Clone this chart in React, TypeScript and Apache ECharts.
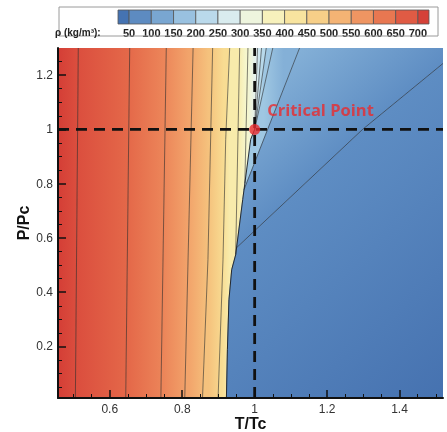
import React, { useEffect, useRef } from "react";
import * as echarts from "echarts";

// ---- axis ranges and ticks ----
const T_RANGE = [0.457, 1.52];
const P_RANGE = [0.01, 1.3];
const xTicks = [0.6, 0.8, 1, 1.2, 1.4];
const xMinorTicks = [0.5, 0.55, 0.65, 0.7, 0.75, 0.85, 0.9, 0.95, 1.05, 1.1, 1.15, 1.25, 1.3, 1.35, 1.45, 1.5];
const yTicks = [0.2, 0.4, 0.6, 0.8, 1, 1.2];
const yMinorTicks = [0.05, 0.1, 0.15, 0.25, 0.3, 0.35, 0.45, 0.5, 0.55, 0.65, 0.7, 0.75, 0.85, 0.9, 0.95, 1.05, 1.1, 1.15, 1.25];
const rhoLevels = [50, 100, 150, 200, 250, 300, 350, 400, 450, 500, 550, 600, 650, 700];
const colorbarRange = [25, 725];

// ---- critical point and saturation curve [T/Tc, P/Pc] ----
const criticalPoint = [1, 1];
const saturationCurve = [
  [0.922, 0.01], [0.9247, 0.188], [0.929, 0.372], [0.9366, 0.483], [0.9476, 0.538],
  [0.967, 0.741], [0.9728, 0.8], [0.989, 0.963], [1, 1],
];

// ---- density isolines [T/Tc, P/Pc], bottom -> top ----
const rho700 = [[0.505, 0.01], [0.513, 1.3]];
const rho650 = [[0.644, 0.01], [0.655, 1.3]];
const rho600 = [[0.741, 0.01], [0.756, 1.3]];
const rho550 = [[0.807, 0.01], [0.83, 1.3]];
const rho500 = [[0.856, 0.01], [0.871, 0.52], [0.884, 1.3]];
const rho450 = [[0.899, 0.01], [0.9126, 0.52], [0.92, 0.963], [0.931, 1.3]];
const rho400 = [[0.9476, 0.538], [0.9586, 1.3]];
const rho350 = [[0.9728, 0.8], [0.9815, 1.3]];
const rho300 = [[1.0, 1.0], [1.008, 1.3]];
const rho250 = [[1.0, 1.0], [1.019, 1.3]];
const rho200 = [[1.0, 1.0], [1.032, 1.3]];
const rho150 = [[1.0, 1.0], [1.05, 1.3]];
const rho100 = [[0.9706, 0.778], [1.124, 1.3]];
const rho50 = [[0.9501, 0.564], [1.298, 1.0], [1.52, 1.243]];

const isolines = [rho700, rho650, rho600, rho550, rho500, rho450, rho400, rho350, rho300, rho250, rho200, rho150, rho100, rho50];

// ---- styling ----
const levelColor: Record<number, string> = {
  0: "#3b68aa", 50: "#4f7eba", 100: "#6a98c8", 150: "#88b4da", 200: "#a9cee6",
  250: "#cbe4ef", 300: "#e6f3ef", 350: "#f6f6cc", 400: "#f8ebab", 450: "#f8dc92",
  500: "#f5c27d", 550: "#f2a46b", 600: "#ec8559", 650: "#e46849", 700: "#db4e3e", 750: "#cf3431",
};
const vaporColor = {
  c300: "#e3f1f1", c250: "#cfe6ef", c200: "#b8d9ea", c150: "#9fc7e2", c100: "#84b0d7",
  c50: "#5e8dc3", c0: "#4672b0",
};
const FONT = "Liberation Sans";

function hex(c: string) {
  const n = parseInt(c.slice(1), 16);
  return [(n >> 16) & 255, (n >> 8) & 255, n & 255];
}
function mix(a: string, b: string, t = 0.5) {
  const A = hex(a), B = hex(b);
  const r = A.map((v, i) => Math.round(v + (B[i] - v) * t));
  return "#" + r.map((v) => v.toString(16).padStart(2, "0")).join("");
}
function xAt(line: number[][], y: number) {
  for (let i = 0; i < line.length - 1; i++) {
    const [x0, y0] = line[i], [x1, y1] = line[i + 1];
    if ((y >= y0 && y <= y1) || i === line.length - 2 || (i === 0 && y < y0)) {
      return x0 + ((y - y0) / (y1 - y0)) * (x1 - x0);
    }
  }
  return line[0][0];
}
function satBetween(yA: number, yB: number) {
  const lo = Math.min(yA, yB), hi = Math.max(yA, yB);
  const pts = [[xAt(saturationCurve, lo), lo], ...saturationCurve.filter((p) => p[1] > lo && p[1] < hi), [xAt(saturationCurve, hi), hi]];
  return yA <= yB ? pts : pts.reverse();
}
const rev = (a: number[][]) => [...a].reverse();

function buildBands() {
  const [X0, X1] = T_RANGE, [Y0, Y1] = P_RANGE;
  const h = (A: number[][], B: number[][], y: number) => ({ g0: [xAt(A, y), y], g1: [xAt(B, y), y] });
  const L = levelColor, V = vaporColor;
  return [
    { pts: [[X0, Y0], ...rho700, [X0, Y1]], g0: [X0, 0.65], g1: [xAt(rho700, 0.65), 0.65], c0: mix(L[700], L[750], 0.6), c1: L[700] },
    { pts: [...rho700, ...rev(rho650)], ...h(rho700, rho650, 0.65), c0: L[700], c1: L[650] },
    { pts: [...rho650, ...rev(rho600)], ...h(rho650, rho600, 0.65), c0: L[650], c1: L[600] },
    { pts: [...rho600, ...rev(rho550)], ...h(rho600, rho550, 0.65), c0: L[600], c1: L[550] },
    { pts: [...rho550, ...rev(rho500)], ...h(rho550, rho500, 0.65), c0: L[550], c1: L[500] },
    { pts: [...rho500, ...rev(rho450)], ...h(rho500, rho450, 0.65), c0: L[500], c1: L[450] },
    { pts: [...rho450, ...rev(rho400), ...satBetween(rho400[0][1], Y0)], ...h(rho450, saturationCurve, 0.4), c0: L[450], c1: L[400] },
    { pts: [...rho400, ...rev(rho350), ...satBetween(rho350[0][1], rho400[0][1])], ...h(rho400, rho350, 0.95), c0: L[400], c1: L[350] },
    { pts: [...rho350, ...rev(rho300), ...satBetween(1, rho350[0][1])], ...h(rho350, rho300, 1.15), c0: L[350], c1: V.c300 },
    { pts: [...rho300, ...rev(rho250)], ...h(rho300, rho250, 1.15), c0: V.c300, c1: V.c250 },
    { pts: [...rho250, ...rev(rho200)], ...h(rho250, rho200, 1.15), c0: V.c250, c1: V.c200 },
    { pts: [...rho200, ...rev(rho150)], ...h(rho200, rho150, 1.15), c0: V.c200, c1: V.c150 },
    { pts: [...rho150, ...rev(rho100), ...satBetween(rho100[0][1], 1)], ...h(rho150, rho100, 1.15), c0: V.c150, c1: V.c100 },
    { pts: [...rho100, [X1, Y1], ...rev(rho50), ...satBetween(rho50[0][1], rho100[0][1])], g0: [1.124, 1.3], g1: [1.32, 1.007], c0: V.c100, c1: V.c50 },
    { pts: [...rho50, [X1, Y0], ...satBetween(Y0, rho50[0][1])], g0: [1.2345, 0.908], g1: [1.69, 0.22], c0: V.c50, c1: V.c0 },
  ];
}

function colorbarBins() {
  const edges = [colorbarRange[0], ...rhoLevels, colorbarRange[1]];
  const bins = [];
  for (let i = 0; i < edges.length - 1; i++) {
    const lo = i === 0 ? 0 : edges[i];
    const hi = i === edges.length - 2 ? 750 : edges[i + 1];
    bins.push({ lo: edges[i], hi: edges[i + 1], color: mix(levelColor[lo], levelColor[hi], 0.5) });
  }
  return bins;
}

export default function App() {
  const ref = useRef<HTMLDivElement>(null);
  useEffect(() => {
    if (!ref.current) return;
    const chart = echarts.init(ref.current, undefined, { renderer: "svg" });
    const bands = buildBands();
    const bins = colorbarBins();

    const tickLabel = { fontFamily: FONT, fontSize: 12, color: "#333" };
    const axisName = { fontFamily: FONT, fontSize: 16, fontWeight: "bold", color: "#111" };

    const contourSeries = isolines.map((line) => ({
      type: "line",
      data: line,
      showSymbol: false,
      silent: true,
      z: 3,
      lineStyle: { color: "#2a2a2a", width: 0.7, opacity: 0.85 },
    }));

    chart.setOption({
      animation: false,
      grid: [
        { left: 58, top: 48, right: 4, bottom: 34, show: false, outerBoundsMode: "none", containLabel: false },
        { left: 118, top: 10, width: 311, height: 14, show: false, outerBoundsMode: "none", containLabel: false },
      ],
      xAxis: [
        {
          gridIndex: 0, type: "value", min: T_RANGE[0], max: T_RANGE[1], position: "bottom", z: 10,
          name: "T/Tc", nameLocation: "middle", nameGap: 17, nameMoveOverlap: false, nameTextStyle: axisName,
          axisLine: { show: true, onZero: false, lineStyle: { color: "#111", width: 2 } },
          axisTick: { show: true, inside: true, length: 8, customValues: xTicks, lineStyle: { color: "#111", width: 1.5 } },
          axisLabel: { customValues: xTicks, margin: 5, ...tickLabel },
          splitLine: { show: false },
        },
        {
          gridIndex: 0, type: "value", min: T_RANGE[0], max: T_RANGE[1], position: "bottom", z: 10,
          axisLine: { show: false },
          axisTick: { show: true, inside: true, length: 4, customValues: xMinorTicks, lineStyle: { color: "#111", width: 1 } },
          axisLabel: { show: false },
          splitLine: { show: false },
        },
        {
          gridIndex: 1, type: "value", min: colorbarRange[0], max: colorbarRange[1],
          axisLine: { show: false }, axisTick: { show: false }, splitLine: { show: false },
          axisLabel: { customValues: rhoLevels, margin: 3, fontFamily: FONT, fontSize: 11, fontWeight: "bold", color: "#222" },
        },
      ],
      yAxis: [
        {
          gridIndex: 0, type: "value", min: P_RANGE[0], max: P_RANGE[1], position: "left", z: 10,
          name: "P/Pc", nameLocation: "middle", nameGap: 27, nameMoveOverlap: false, nameTextStyle: axisName,
          axisLine: { show: true, onZero: false, lineStyle: { color: "#111", width: 2 } },
          axisTick: { show: true, inside: true, length: 8, customValues: yTicks, lineStyle: { color: "#111", width: 1.5 } },
          axisLabel: { customValues: yTicks, margin: 5, ...tickLabel },
          splitLine: { show: false },
        },
        {
          gridIndex: 0, type: "value", min: P_RANGE[0], max: P_RANGE[1], position: "left", z: 10,
          axisLine: { show: false },
          axisTick: { show: true, inside: true, length: 4, customValues: yMinorTicks, lineStyle: { color: "#111", width: 1 } },
          axisLabel: { show: false },
          splitLine: { show: false },
        },
        { gridIndex: 1, type: "value", min: 0, max: 1, show: false },
      ],
      graphic: [
        { type: "rect", shape: { x: 59, y: 7, width: 379, height: 29 }, style: { fill: "none", stroke: "#9a9a9a", lineWidth: 1 }, z: 1 },
        { type: "text", x: 55, y: 32, style: { text: "ρ (kg/m³):", fontFamily: FONT, fontSize: 10, fontWeight: "bold", fill: "#222", verticalAlign: "middle" }, z: 1 },
      ],
      series: [
        {
          type: "custom",
          clip: true,
          silent: true,
          z: 1,
          data: bands.map((_, i) => [1, 0.5, i]),
          encode: { x: 0, y: 1 },
          renderItem: (params: any, api: any) => {
            const b = bands[params.dataIndex];
            const pts = b.pts.map((p: number[]) => api.coord(p));
            const a = api.coord(b.g0), c = api.coord(b.g1);
            const grad = new echarts.graphic.LinearGradient(a[0], a[1], c[0], c[1], [
              { offset: 0, color: b.c0 },
              { offset: 1, color: b.c1 },
            ], true);
            return { type: "polygon", shape: { points: pts }, style: { fill: grad, stroke: grad, lineWidth: 0.8 } };
          },
        },
        ...contourSeries,
        {
          type: "line", data: saturationCurve, showSymbol: false, silent: true, z: 3,
          lineStyle: { color: "#1e1e1e", width: 0.9 },
        },
        {
          type: "line", data: [[criticalPoint[0], P_RANGE[0]], [criticalPoint[0], P_RANGE[1]]], showSymbol: false, silent: true, z: 4,
          lineStyle: { color: "#111", width: 2.8, type: [11, 7], cap: "butt" },
        },
        {
          type: "line", data: [[T_RANGE[0], criticalPoint[1]], [T_RANGE[1], criticalPoint[1]]], showSymbol: false, silent: true, z: 4,
          lineStyle: { color: "#111", width: 2.8, type: [11, 7], cap: "butt" },
        },
        {
          type: "scatter", data: [criticalPoint], symbolSize: 11, z: 5, silent: true,
          itemStyle: { color: "#ea2a2d" },
          label: {
            show: true, formatter: "Critical Point", position: "right", distance: 7, offset: [0, -20],
            color: "#ea2a2d", fontSize: 16.5, fontWeight: "bold", fontFamily: "Open Sans",
          },
        },
        {
          type: "custom",
          xAxisIndex: 2, yAxisIndex: 2,
          silent: true,
          data: bins.map((b) => [b.lo, b.hi, 0.5]),
          encode: { x: [0, 1], y: 2 },
          renderItem: (params: any, api: any) => {
            const p0 = api.coord([api.value(0), 1]);
            const p1 = api.coord([api.value(1), 0]);
            return {
              type: "rect",
              shape: { x: p0[0], y: p0[1], width: p1[0] - p0[0], height: p1[1] - p0[1] },
              style: { fill: bins[params.dataIndex].color, stroke: "#555", lineWidth: 0.8 },
            };
          },
        },
      ],
    });
    return () => chart.dispose();
  }, []);
  return <div ref={ref} style={{ position: "fixed", left: 0, top: 0, width: 447, height: 432 }} />;
}
